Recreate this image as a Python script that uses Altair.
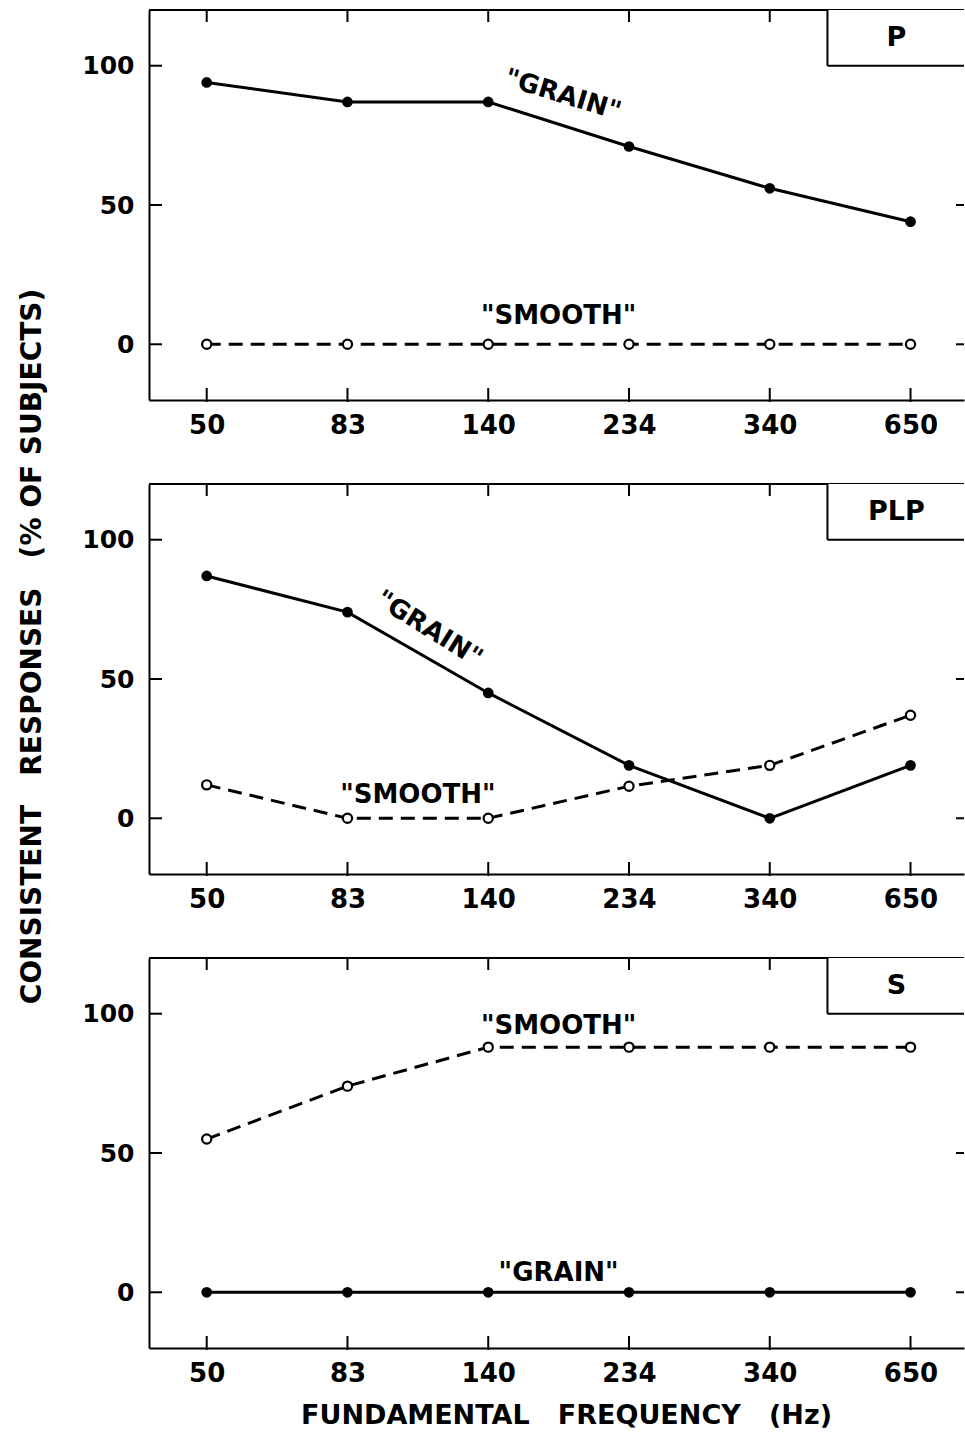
import altair as alt
import pandas as pd

# ---------------- data ----------------
freq_labels = ["50", "83", "140", "234", "340", "650"]
panels = ["P", "PLP", "S"]
grain = {
    "P":   [94, 87, 87, 71, 56, 44],
    "PLP": [87, 74, 45, 19, 0, 19],
    "S":   [0, 0, 0, 0, 0, 0],
}
smooth = {
    "P":   [0, 0, 0, 0, 0, 0],
    "PLP": [12, 0, 0, 11.5, 19, 37],
    "S":   [55, 74, 88, 88, 88, 88],
}
y_ticks = [0, 50, 100]
right_ticks = [0, 50]

# curve annotations (x in category-index units, y in %)
ann_panel = ["P", "P", "PLP", "PLP", "S", "S"]
ann_text = ['"GRAIN"', '"SMOOTH"', '"GRAIN"', '"SMOOTH"', '"SMOOTH"', '"GRAIN"']
ann_x = [2.53, 2.5, 1.58, 1.5, 2.5, 2.5]
ann_y = [89.5, 10, 68, 8.5, 95.5, 7]
ann_angle = [17, 0, 32, 0, 0, 0]

# panel label box
box_x = 4.41
box_y = [100, 120]
label_x = 4.9
label_y = 110

NB = "\u00a0"
x_title = "FUNDAMENTAL" + NB * 3 + "FREQUENCY" + NB * 3 + "(Hz)"
y_title = "CONSISTENT" + NB * 3 + "RESPONSES" + NB * 3 + "(%" + NB + "OF" + NB + "SUBJECTS)"

# ---------------- style ----------------
W, H = 815, 390
X_DOMAIN = [-0.41, 5.38]
Y_DOMAIN = [-20, 120]
FONT = "DejaVu Sans"
WEIGHT = "bold"
label_expr = "[" + ",".join("'%s'" % s for s in freq_labels) + "][datum.value]"


def xenc(field="idx", title=None):
    axis_kw = dict(values=list(range(len(freq_labels))), labelExpr=label_expr,
                   ticks=False, grid=False, domainColor="black", domainWidth=2,
                   labelFontSize=26, labelFontWeight=WEIGHT, labelPadding=12,
                   labelColor="black", labelFont=FONT,
                   titleFont=FONT, titleFontSize=27, titleFontWeight=WEIGHT,
                   titleColor="black", titlePadding=16, titleX=417)
    return alt.X(field + ":Q", scale=alt.Scale(domain=X_DOMAIN, nice=False, zero=False),
                 axis=alt.Axis(**axis_kw), title=title)


def yenc(field="val", title=None):
    axis_kw = dict(values=y_ticks, ticks=False, grid=False, domainColor="black",
                   domainWidth=2, labelFontSize=25, labelFontWeight=WEIGHT,
                   labelPadding=15, labelColor="black",
                   labelFont=FONT, titleFont=FONT, titleFontSize=28,
                   titleFontWeight=WEIGHT, titleColor="black", titleAngle=270,
                   titleBaseline="alphabetic", titleX=-109, titleY=162)
    return alt.Y(field + ":Q", scale=alt.Scale(domain=Y_DOMAIN, nice=False, zero=False),
                 axis=alt.Axis(**axis_kw), title=title)


def panel(name, xt=None, yt=None):
    n = len(freq_labels)
    dfg = pd.DataFrame({"idx": list(range(n)), "val": grain[name]})
    dfs = pd.DataFrame({"idx": list(range(n)), "val": smooth[name]})
    dft = pd.DataFrame({"idx": list(range(n))})
    dfy = pd.DataFrame({"val": y_ticks})
    dfr = pd.DataFrame({"val": right_ticks})
    dfa = pd.DataFrame({"idx": [x for x, p in zip(ann_x, ann_panel) if p == name],
                        "val": [y for y, p in zip(ann_y, ann_panel) if p == name],
                        "txt": [t for t, p in zip(ann_text, ann_panel) if p == name],
                        "ang": [a for a, p in zip(ann_angle, ann_panel) if p == name]})
    dfb = pd.DataFrame({"idx": [box_x], "val": [box_y[0]], "val2": [box_y[1]]})
    dfl = pd.DataFrame({"idx": [label_x], "val": [label_y], "txt": [name]})

    X = xenc(title=xt)
    Y = yenc(title=yt)
    rule = dict(color="black", strokeWidth=2)

    top = alt.Chart(dft).mark_rule(**rule).encode(
        x=alt.value(0), x2=alt.value(W), y=alt.value(0))
    xt_top = alt.Chart(dft).mark_rule(**rule).encode(
        x=X, y=alt.value(0), y2=alt.value(12))
    xt_bot = alt.Chart(dft).mark_rule(**rule).encode(
        x=X, y=alt.value(H - 12), y2=alt.value(H + 2))
    yt_left = alt.Chart(dfy).mark_rule(**rule).encode(
        y=Y, x=alt.value(0), x2=alt.value(13))
    yt_right = alt.Chart(dfr).mark_rule(**rule).encode(
        y=Y, x=alt.value(W - 8), x2=alt.value(W))

    gline = alt.Chart(dfg).mark_line(color="black", strokeWidth=3).encode(x=X, y=Y)
    sline = alt.Chart(dfs).mark_line(color="black", strokeWidth=3,
                                     strokeDash=[14, 8]).encode(x=X, y=Y)
    gpts = alt.Chart(dfg).mark_point(filled=True, color="black", size=115,
                                     opacity=1).encode(x=X, y=Y)
    spts = alt.Chart(dfs).mark_point(shape="circle", filled=True, fill="white",
                                     stroke="black", strokeWidth=2.2, size=85,
                                     opacity=1).encode(x=X, y=Y)
    ann = alt.Chart(dfa).mark_text(font=FONT, fontSize=26, fontWeight=WEIGHT,
                                   color="black", baseline="middle",
                                   align="center").encode(
        x=X, y=Y, text="txt:N", angle=alt.Angle("ang:Q", scale=None))
    # label box: white fill, left and bottom edges (the right side runs off the page)
    box_fill = alt.Chart(dfb).mark_rect(fill="white", strokeWidth=0).encode(
        x=X, x2=alt.value(W), y=Y, y2="val2:Q")
    box_left = alt.Chart(dfb).mark_rule(**rule).encode(x=X, y=Y, y2="val2:Q")
    box_bot = alt.Chart(dfb).mark_rule(**rule).encode(x=X, x2=alt.value(W), y=Y)
    lab = alt.Chart(dfl).mark_text(font=FONT, fontSize=27, fontWeight=WEIGHT,
                                   color="black", baseline="middle",
                                   align="center").encode(x=X, y=Y, text="txt:N")

    return alt.layer(top, xt_top, xt_bot, yt_left, yt_right, sline, gline,
                     spts, gpts, ann, box_fill, box_left, box_bot, lab
                     ).properties(width=W, height=H)


p1 = panel("P")
p2 = panel("PLP", yt=y_title)
p3 = panel("S", xt=x_title)

chart = alt.vconcat(p1, p2, p3, spacing=84, bounds="flush").properties(
    padding={"left": 17, "top": 9, "right": 0, "bottom": 5},
    background="white",
).configure_view(stroke=None)

chart.save("out.html", embed_options={"renderer": "svg", "actions": False})
